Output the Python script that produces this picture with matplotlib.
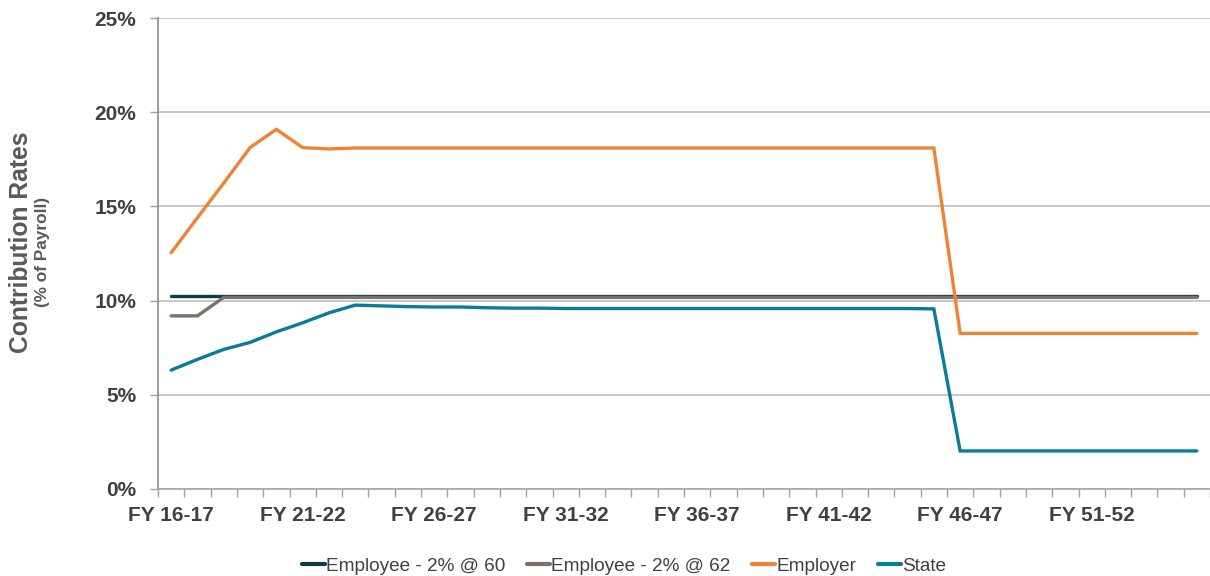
import matplotlib
matplotlib.use("Agg")
import matplotlib.pyplot as plt
import numpy as np

years = [f"FY {y:02d}-{y+1:02d}" for y in range(16, 56)]

emp60 = [10.24] * 40
emp62 = [9.19, 9.19] + [10.17] * 38
employer = [12.54, 14.4, 16.24, 18.12, 19.09, 18.12, 18.05, 18.1] + [18.1] * 22 + [8.26] * 10
state = [6.31, 6.88, 7.41, 7.78, 8.34, 8.82, 9.35, 9.76, 9.72, 9.68, 9.66, 9.66, 9.62,
         9.6, 9.6, 9.58, 9.58, 9.58, 9.58, 9.58, 9.58, 9.58, 9.58, 9.58, 9.58, 9.58,
         9.58, 9.58, 9.58, 9.56] + [2.02] * 10

series_names = ["Employee - 2% @ 60", "Employee - 2% @ 62", "Employer", "State"]
colors = ["#0D3B47", "#7A716A", "#F08236", "#0A7B99"]

plt.rcParams['font.family'] = ['Liberation Sans', 'DejaVu Sans']

fig = plt.figure(figsize=(12.10, 5.76), dpi=100)
ax = fig.add_axes([158/1210, 1-489/576, 1-158/1210, (489-18)/576])

x = np.arange(len(years))
for vals, name, c in zip([emp60, emp62, employer, state], series_names, colors):
    ax.plot(x, vals, color=c, lw=2.4, label=name, solid_capstyle='round', solid_joinstyle='miter')

ax.set_xlim(-0.5, len(years) - 0.5)
ax.set_ylim(0, 25)
ax.set_yticks(np.arange(0, 26, 5))
ax.set_yticklabels([f"{v}%" for v in range(0, 26, 5)], fontsize=15, fontweight='bold', color='#404040')
ax.yaxis.grid(True, color='#BDBDBD', lw=1.2)
ax.set_axisbelow(True)

ax.set_xticks(np.arange(-0.5, len(years), 1))
ax.set_xticklabels([])
ax.set_xticks(x[::5], minor=True)
ax.set_xticklabels(years[::5], minor=True, fontsize=15, fontweight='bold', color='#404040')
ax.tick_params(axis='x', which='major', length=6, color='#A0A0A0', width=1)
ax.tick_params(axis='x', which='minor', length=0, pad=12)
ax.tick_params(axis='y', length=6, color='#A0A0A0', width=1, pad=9.5)

for s in ['top', 'right']:
    ax.spines[s].set_visible(False)
ax.spines['left'].set_color('#8C8C8C')
ax.spines['bottom'].set_color('#A6A6A6')
ax.spines['left'].set_linewidth(1.2)
ax.spines['bottom'].set_linewidth(1.2)

fig.text(21/1210, 1-242/576, "Contribution Rates", rotation=90, ha='center', va='center',
         fontsize=17.7, fontweight='bold', color='#595959')
fig.text(43/1210, 1-252/576, "(% of Payroll)", rotation=90, ha='center', va='center',
         fontsize=12.4, fontweight='bold', color='#595959')

leg = fig.legend(loc='center', bbox_to_anchor=(624/1210, 1-566/576), ncol=4, frameon=False,
                 fontsize=13.7, handlelength=1.2, handletextpad=0.05, columnspacing=1.15,
                 labelcolor='#404040')
for h in leg.get_lines():
    h.set_linewidth(3)

fig.savefig("out.png", dpi=100)
